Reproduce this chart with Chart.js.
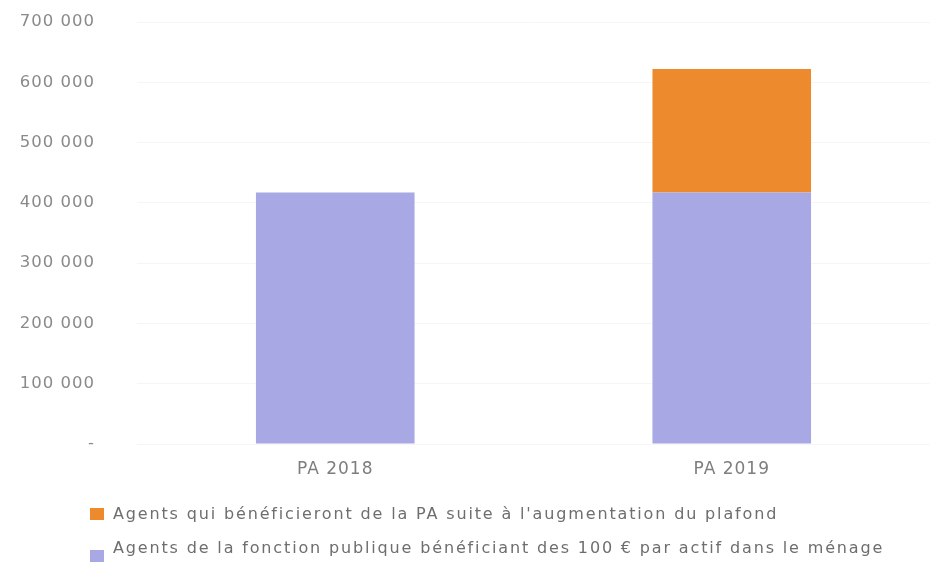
<!DOCTYPE html>
<html><head><meta charset="utf-8">
<script src="https://cdn.jsdelivr.net/npm/chart.js@4/dist/chart.umd.min.js"></script>
<style>
html,body{margin:0;padding:0;background:#fff;}
#wrap{position:relative;width:933px;height:583px;overflow:hidden;}
#c{position:absolute;left:0;top:0;}
.item{position:absolute;left:90px;height:20px;display:flex;align-items:center;white-space:nowrap;font-family:"DejaVu Sans",sans-serif;font-size:16px;letter-spacing:1.85px;color:#6e6e6e;}
.box{width:14px;height:12px;margin-right:9px;flex:none;position:relative;}
</style></head>
<body><div id="wrap"><canvas id="c" width="933" height="583"></canvas></div>
<script>
const categories = ["PA 2018", "PA 2019"];
const seriesBase = [417000, 417000];
const seriesExtra = [0, 205000];
const seriesBaseLabel = "Agents de la fonction publique bénéficiant des 100 € par actif dans le ménage";
const seriesExtraLabel = "Agents qui bénéficieront de la PA suite à l'augmentation du plafond";
const yTickValues = [0, 100000, 200000, 300000, 400000, 500000, 600000, 700000];
const yTickLabels = ["-", "100 000", "200 000", "300 000", "400 000", "500 000", "600 000", "700 000"];

const purple = "#a7a8e4";
const orange = "#ee8a2e";

const spacing = {
  id: 'spacing',
  beforeDraw(chart) { try { chart.ctx.letterSpacing = '1px'; } catch (e) {} }
};

const chart = new Chart(document.getElementById('c'), {
  type: 'bar',
  data: {
    labels: categories,
    datasets: [
      { label: seriesBaseLabel, data: seriesBase, backgroundColor: purple, borderWidth: 0 },
      { label: seriesExtraLabel, data: seriesExtra, backgroundColor: orange, borderWidth: 0 }
    ]
  },
  plugins: [spacing],
  options: {
    responsive: false,
    animation: false,
    devicePixelRatio: 1,
    layout: { padding: { top: 22, right: 3, bottom: 99, left: 0 } },
    plugins: { legend: { display: false }, tooltip: { enabled: false } },
    datasets: { bar: { categoryPercentage: 1, barPercentage: 0.40 } },
    scales: {
      x: {
        stacked: true,
        grid: { display: false, drawTicks: false },
        border: { display: false },
        ticks: { color: '#7e7e7e', padding: 15, font: { family: 'DejaVu Sans', size: 17 } },
        afterFit: s => { s.height = 40; }
      },
      y: {
        stacked: true,
        min: 0, max: 700000,
        grid: { color: 'rgba(0,0,0,0.035)', drawTicks: true, tickLength: 42, tickColor: 'rgba(0,0,0,0)' },
        border: { display: false },
        ticks: {
          stepSize: 100000,
          color: '#8a8a8a', padding: 0,
          font: { family: 'DejaVu Sans', size: 16.5 },
          callback: (v) => { const i = yTickValues.indexOf(v); return i >= 0 ? yTickLabels[i] : ''; }
        },
        afterFit: s => { s.width = 137; }
      }
    }
  }
});

// legend (series order: top of stack first)
const wrap = document.getElementById('wrap');
const legendItems = [
  { label: seriesExtraLabel, color: orange, top: 503, boxShift: 1 },
  { label: seriesBaseLabel, color: purple, top: 537, boxShift: 9 }
];
legendItems.forEach(it => {
  const d = document.createElement('div');
  d.className = 'item';
  d.style.top = it.top + 'px';
  const b = document.createElement('span');
  b.className = 'box';
  b.style.background = it.color;
  b.style.top = it.boxShift + 'px';
  const t = document.createElement('span');
  t.textContent = it.label;
  d.appendChild(b); d.appendChild(t);
  wrap.appendChild(d);
});
</script>
</body></html>
